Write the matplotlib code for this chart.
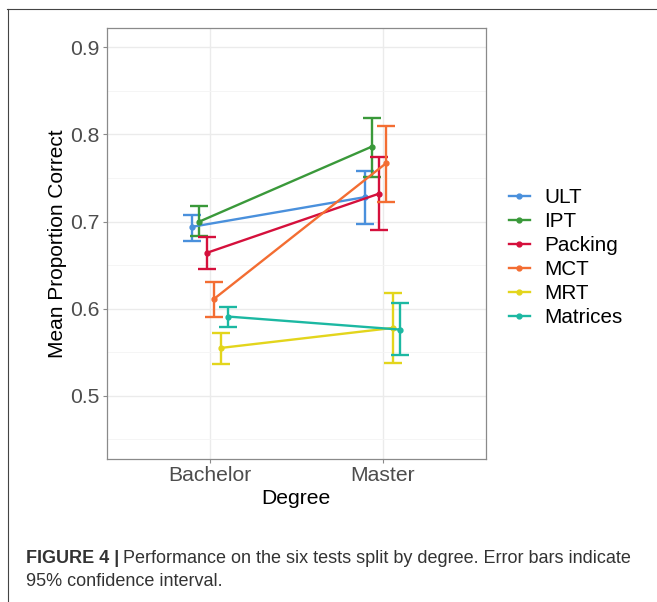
import numpy as np
import matplotlib
matplotlib.use("Agg")
import matplotlib.pyplot as plt
from matplotlib.lines import Line2D

plt.rcParams['font.family'] = ['Liberation Sans', 'DejaVu Sans']

# data
degrees = ['Bachelor', 'Master']
tests = ['ULT', 'IPT', 'Packing', 'MCT', 'MRT', 'Matrices']
colors = ['#4a90dc', '#3a993a', '#d5103c', '#f36d32', '#e3d51c', '#1cb8a2']

mean_bachelor = [0.694, 0.700, 0.664, 0.611, 0.555, 0.591]
low_bachelor = [0.678, 0.683, 0.645, 0.590, 0.537, 0.579]
high_bachelor = [0.708, 0.718, 0.682, 0.631, 0.572, 0.602]

mean_master = [0.728, 0.786, 0.732, 0.767, 0.578, 0.576]
low_master = [0.697, 0.751, 0.690, 0.723, 0.538, 0.547]
high_master = [0.758, 0.819, 0.774, 0.810, 0.618, 0.606]

fig = plt.figure(figsize=(6.57, 6.02), dpi=100)
ax = fig.add_axes([0.1624, 0.2375, 0.5773, 0.7165])

dodge = 0.25
n = len(tests)
handles = []
for i, name in enumerate(tests):
    off = -dodge / 2 + dodge / (2 * n) + i * dodge / n
    xs = np.array([1, 2]) + off
    m = np.array([mean_bachelor[i], mean_master[i]])
    lo = np.array([low_bachelor[i], low_master[i]])
    hi = np.array([high_bachelor[i], high_master[i]])
    ax.errorbar(xs, m, yerr=[m - lo, hi - m], fmt='none', ecolor=colors[i],
                elinewidth=1.7, capsize=6.5, capthick=1.7, zorder=3)
    ax.plot(xs, m, color=colors[i], lw=1.7, marker='o', ms=3.5, zorder=4)
    handles.append(Line2D([], [], color=colors[i], lw=1.7, marker='o', ms=3.5))

ax.set_xlim(0.4, 2.6)
ax.set_ylim(0.4275, 0.9225)
ax.set_xticks([1, 2])
ax.set_xticklabels(degrees)
ax.set_yticks([0.5, 0.6, 0.7, 0.8, 0.9])
ax.set_yticks(np.arange(0.45, 0.9, 0.1), minor=True)
ax.grid(which='major', color='#ebebeb', lw=1.0)
ax.grid(which='minor', axis='y', color='#f4f4f4', lw=0.6)
ax.set_axisbelow(True)
for s in ax.spines.values():
    s.set_color('#8a8a8a')
    s.set_linewidth(0.9)
ax.tick_params(which='major', length=3, color='#8a8a8a', labelsize=15.2,
               labelcolor='#4d4d4d', pad=2)
ax.tick_params(which='minor', length=0)
ax.set_xlabel('Degree', fontsize=15.2, labelpad=3)
ax.set_ylabel('Mean Proportion Correct', fontsize=15, labelpad=2)

fig.legend(handles, tests, loc='center left', bbox_to_anchor=(509 / 657, 0.572),
           frameon=False, fontsize=14.9, handlelength=1.0, handletextpad=0.7,
           labelspacing=0.24, borderpad=0, borderaxespad=0)

# outer frame of the published figure (cropped at right and bottom)
fig.add_artist(Line2D([7.5 / 657, 7.5 / 657], [0, 1 - 8.5 / 602], color='#444444', lw=0.8))
fig.add_artist(Line2D([7 / 657, 1], [1 - 8.5 / 602, 1 - 8.5 / 602], color='#444444', lw=0.8))

# caption
cap_y1 = 1 - 563 / 602
cap_y2 = 1 - 586 / 602
t1 = fig.text(26 / 657, cap_y1, 'FIGURE 4 |', fontsize=13, fontweight='bold',
              color='#333333', va='baseline')
fig.canvas.draw()
bb = t1.get_window_extent()
fig.text(bb.x1 / 657 + 4 / 657, cap_y1,
         'Performance on the six tests split by degree. Error bars indicate',
         fontsize=13, color='#333333', va='baseline')
fig.text(26 / 657, cap_y2, '95% confidence interval.', fontsize=13,
         color='#333333', va='baseline')

fig.savefig('out.png', dpi=100)
